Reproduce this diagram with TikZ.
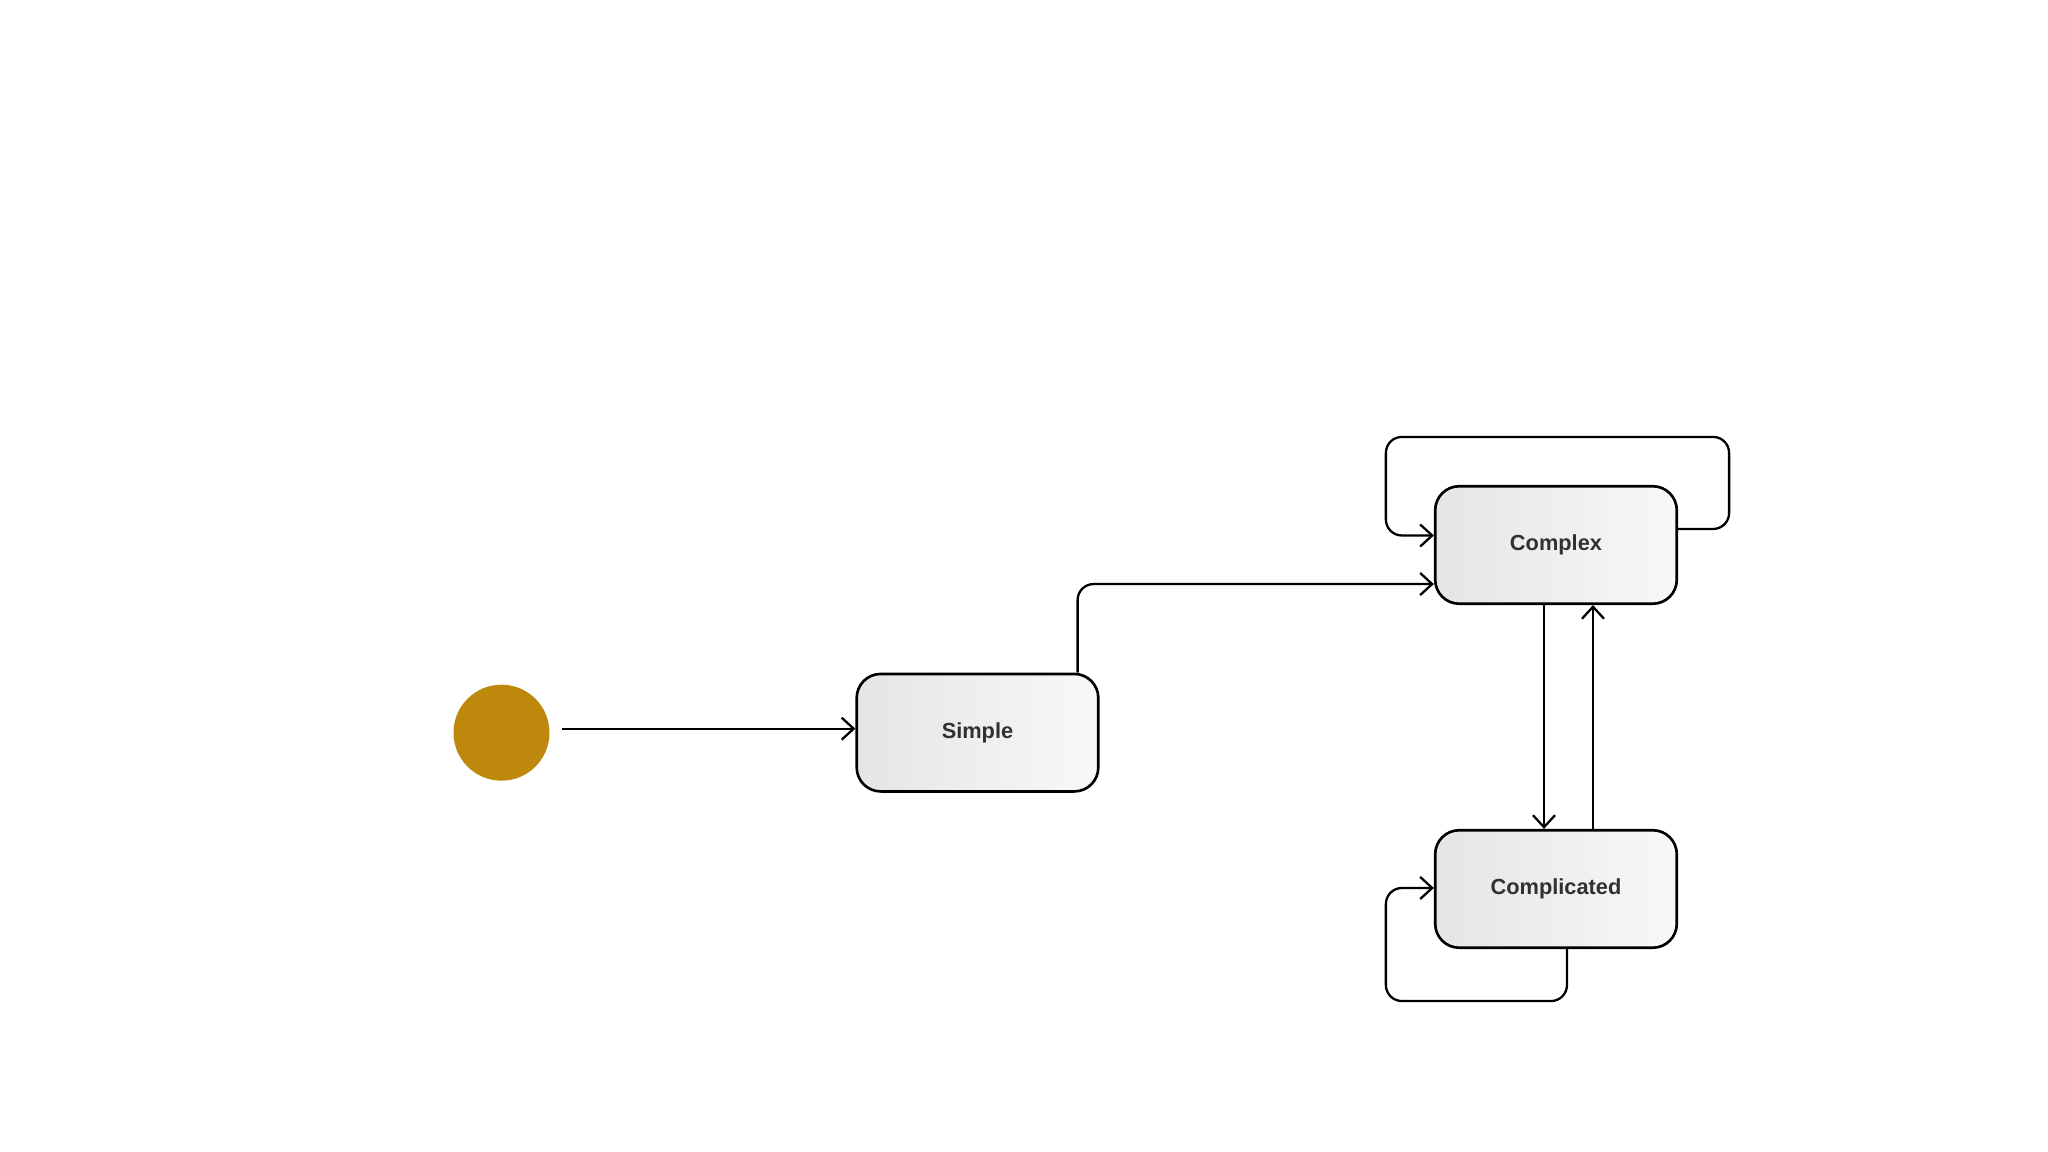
\documentclass[tikz,border=0pt]{standalone}
\usepackage{fontspec}
\setmainfont{Liberation Sans}
\usetikzlibrary{arrows.meta}

\definecolor{startgold}{RGB}{190,136,12}
\definecolor{boxgray}{RGB}{231,228,230}
\definecolor{boxwhite}{RGB}{249,247,248}
\definecolor{textgray}{RGB}{50,48,50}

\begin{document}
\begin{tikzpicture}[
	state/.style = {draw, line width=0.75pt, rounded corners=0.24cm, minimum width=2.416cm, minimum height=1.175cm, inner sep=0pt, left color=boxgray, right color=boxwhite, text=textgray, font=\bfseries\fontsize{6.2}{7}\selectfont},
	initial/.style = {circle, fill=startgold, minimum size=0.96cm, inner sep=0pt},
	trans/.style = {-{Straight Barb[length=1.2mm, width=2.2mm]}, line width=0.65pt, rounded corners=0.16cm}
	]
	% canvas
	\useasboundingbox (0, 0) rectangle (20.48, 11.52);
	
	% states
	\node[initial] (start) at (5.015, 4.193) {};
	\node[state] (simple) at (9.775, 4.193) {Simple};
	\node[state] (complex) at (15.56, 6.07) {Complex};
	\node[state] (complicated) at (15.56, 2.63) {Complicated};
	
	% transitions
	\draw[trans] ([xshift=0.12cm, yshift=0.04cm]start.east) -- ([yshift=0.04cm]simple.west);
	\draw[trans] ([xshift=-0.22cm]simple.north east) |- ([yshift=0.21cm]complex.south west);
	\draw[trans] ([yshift=0.16cm]complex.east) -- ++(0.51cm, 0) |- ([yshift=0.48cm]complex.north) -| ([xshift=-0.48cm, yshift=0.095cm]complex.west) -- ([yshift=0.095cm]complex.west);
	\draw[trans] ([xshift=-0.12cm]complex.south) -- ([xshift=-0.12cm]complicated.north);
	\draw[trans] ([xshift=0.37cm]complicated.north) -- ([xshift=0.37cm]complex.south);
	\draw[trans] ([xshift=0.11cm]complicated.south) -- ++(0, -0.52cm) -| ([xshift=-0.48cm, yshift=0.01cm]complicated.west) -- ([yshift=0.01cm]complicated.west);
\end{tikzpicture}
\end{document}
